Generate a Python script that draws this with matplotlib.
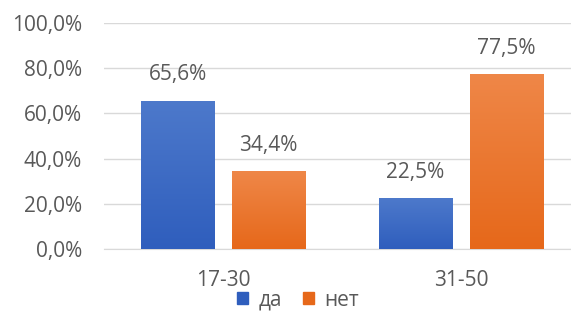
import numpy as np
import matplotlib.pyplot as plt
from matplotlib.colors import LinearSegmentedColormap
from matplotlib.patches import Patch

plt.rcParams['font.family'] = ['Open Sans', 'DejaVu Sans']

# данные
groups = ['17-30', '31-50']
series = ['да', 'нет']
da = [65.6, 22.5]
net = [34.4, 77.5]
yticks = [0, 20, 40, 60, 80, 100]

# цвета (верх, низ градиента)
blue = ('#4d79cb', '#2f5ebd')
orange = ('#ef8748', '#e6681a')
text_col = '#595959'

fig = plt.figure(figsize=(5.71, 3.13), dpi=100)
ax = fig.add_axes([104 / 571, 64 / 313, 476 / 571, 226 / 313])

x = np.arange(len(groups))
w = 0.31
off = 0.382


def grad_bars(xs, vals, cols):
    bars = ax.bar(xs, vals, width=w, color=cols[1], zorder=2)
    cmap = LinearSegmentedColormap.from_list('g', [cols[1], cols[0]])
    grad = np.linspace(0, 1, 256).reshape(-1, 1)
    for b in bars:
        x0, y0 = b.get_x(), b.get_y()
        im = ax.imshow(grad, cmap=cmap, aspect='auto', origin='lower',
                       extent=[x0, x0 + b.get_width(), y0, y0 + b.get_height()],
                       zorder=3)
        im.set_clip_path(b)
        v = b.get_height()
        ax.annotate(f'{v:.1f}%'.replace('.', ','),
                    (x0 + b.get_width() / 2, v), xytext=(0, 11),
                    textcoords='offset points', ha='center', va='bottom',
                    fontsize=15, color=text_col)
    return bars


grad_bars(x - off / 2, da, blue)
grad_bars(x + off / 2, net, orange)

ax.set_xlim(-0.5, 1.5)
ax.set_ylim(0, 100)
ax.set_yticks(yticks)
ax.set_yticklabels([f'{t:.1f}%'.replace('.', ',') for t in yticks])
ax.set_xticks(x)
ax.set_xticklabels(groups)
ax.tick_params(axis='y', length=0, pad=16, labelsize=15, labelcolor=text_col)
ax.tick_params(axis='x', length=0, pad=15, labelsize=15, labelcolor=text_col)
ax.grid(axis='y', color='#d9d9d9', linewidth=1, zorder=0)
ax.set_axisbelow(True)
for s in ['top', 'right', 'left']:
    ax.spines[s].set_visible(False)
ax.spines['bottom'].set_color('#d9d9d9')

handles = [Patch(color=blue[1]), Patch(color=orange[1])]
fig.legend(handles, series, loc='center', bbox_to_anchor=(298 / 571, 1 - 300 / 313),
           ncol=2, frameon=False, fontsize=15, labelcolor=text_col,
           handlelength=0.55, handleheight=0.55, handletextpad=0.5, columnspacing=1.0)

fig.savefig('out.png', dpi=100)
